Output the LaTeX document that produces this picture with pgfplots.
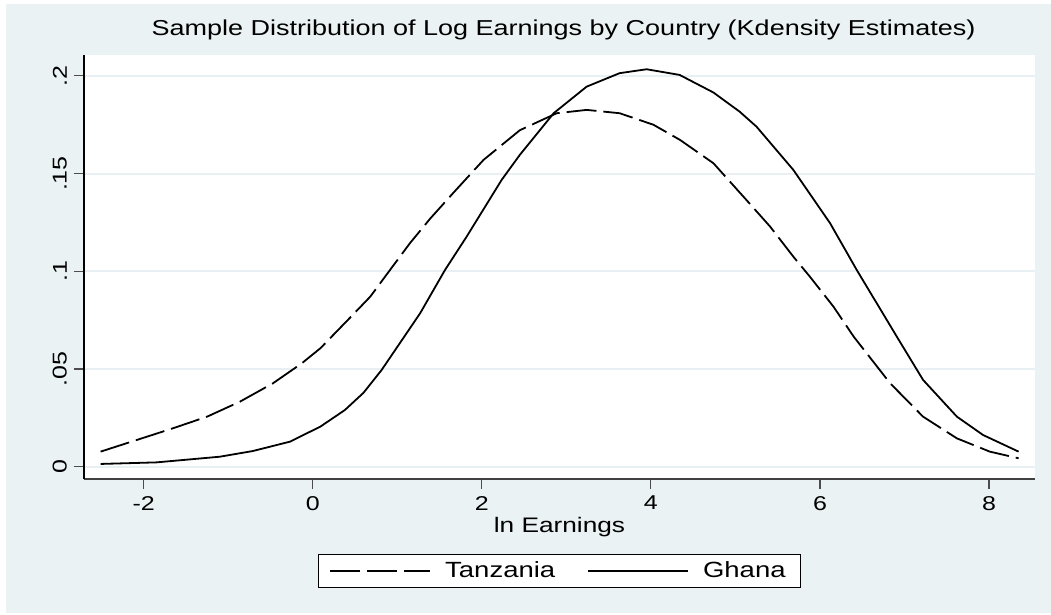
\documentclass[border=0pt]{standalone}
\usepackage{fontspec}
\setmainfont{Liberation Sans}[FakeStretch=1.25]
\usepackage{pgfplots}
\pgfplotsset{compat=1.18}

\definecolor{stbg}{RGB}{234,242,243}
\definecolor{stgrid}{RGB}{232,240,243}

\begin{document}
\begin{tikzpicture}
  \path[use as bounding box] (0,0) rectangle (525.5pt,307.5pt);
  \fill[stbg] (3pt,1pt) rectangle (525.5pt,305.5pt);
  \begin{axis}[
    at={(42pt,68pt)}, anchor=south west,
    scale only axis,
    width=475.5pt, height=212pt,
    xmin=-2.706, xmax=8.544,
    ymin=-0.0063, ymax=0.2107,
    axis background/.style={fill=white},
    axis x line*=bottom, axis y line*=left,
    x axis line style={-, black!75, line width=0.8pt},
    y axis line style={-, black, line width=0.8pt},
    tick align=outside,
    major tick length=5pt,
    xtick={-2,0,2,4,6,8},
    xticklabels={-2,0,2,4,6,8},
    ytick={0,0.05,0.1,0.15,0.2},
    yticklabels={0,.05,.1,.15,.2},
    tick style={black!70, line width=0.6pt},
    /pgf/number format/assume math mode=true,
    ticklabel style={font=\fontsize{10}{12}\selectfont},
    yticklabel style={rotate=90, anchor=south},
    ymajorgrids,
    grid style={stgrid, line width=1pt},
    title={Sample Distribution of Log Earnings by Country (Kdensity Estimates)},
    title style={at={(0.5,1)}, anchor=base, yshift=3.5pt, xshift=2pt,
      font=\fontsize{10.8}{13}\selectfont},
    xlabel={ln Earnings},
    xlabel style={at={(axis description cs:0.5,0)}, anchor=base, yshift=-27pt,
      font=\fontsize{10.5}{12}\selectfont},
    legend columns=2,
    legend style={at={(0.5,0)}, anchor=south, yshift=-54.5pt,
      draw=black, line width=0.6pt, fill=white,
      font=\fontsize{11}{12}\selectfont,
      inner xsep=5.5pt, inner ysep=1.5pt,
      /tikz/every odd column/.append style={column sep=5pt},
      /tikz/every even column/.append style={column sep=14pt}},
    legend image code/.code={\draw[#1, line width=0.9pt] (0pt,0pt) -- (50pt,0pt);},
  ]

    % Tanzania
    \addplot[black, line width=0.9pt, dash pattern=on 15pt off 3.5pt] coordinates {
      (-2.51,0.0077) (-2.08,0.0137) (-1.65,0.0197) (-1.25,0.0256)
      (-0.86,0.0333) (-0.47,0.0427) (-0.13,0.0529) (0.09,0.0606)
      (0.44,0.0762) (0.68,0.0870) (0.93,0.1016) (1.15,0.1144)
      (1.39,0.1270) (1.66,0.1400) (2.02,0.1570) (2.45,0.1722)
      (2.886,0.1809) (3.24,0.1826) (3.63,0.1809) (4.03,0.1750)
      (4.346,0.1672) (4.74,0.1553) (5.13,0.1365) (5.41,0.1229)
      (5.685,0.1075) (5.88,0.0973) (6.16,0.0819) (6.40,0.0665)
      (6.83,0.0427) (7.22,0.0256) (7.62,0.0145) (8.01,0.0077)
      (8.35,0.0043)
    };
    \addlegendentry{Tanzania}

    % Ghana
    \addplot[black, line width=0.9pt] coordinates {
      (-2.51,0.0014) (-1.85,0.0022) (-1.10,0.0051) (-0.71,0.0080)
      (-0.27,0.0128) (0.09,0.0205) (0.38,0.0290) (0.60,0.0378)
      (0.815,0.0495) (1.03,0.0632) (1.27,0.0785) (1.565,0.1007)
      (1.82,0.1177) (2.235,0.1468) (2.45,0.1596) (2.85,0.1809)
      (3.24,0.1945) (3.63,0.2014) (3.95,0.2034) (4.34,0.2005)
      (4.74,0.1915) (5.05,0.1817) (5.25,0.1740) (5.685,0.1519)
      (6.12,0.1246) (6.435,0.1007) (6.91,0.0665) (7.22,0.0444)
      (7.62,0.0256) (7.93,0.0162) (8.35,0.0077)
    };
    \addlegendentry{Ghana}

  \end{axis}
\end{tikzpicture}
\end{document}
